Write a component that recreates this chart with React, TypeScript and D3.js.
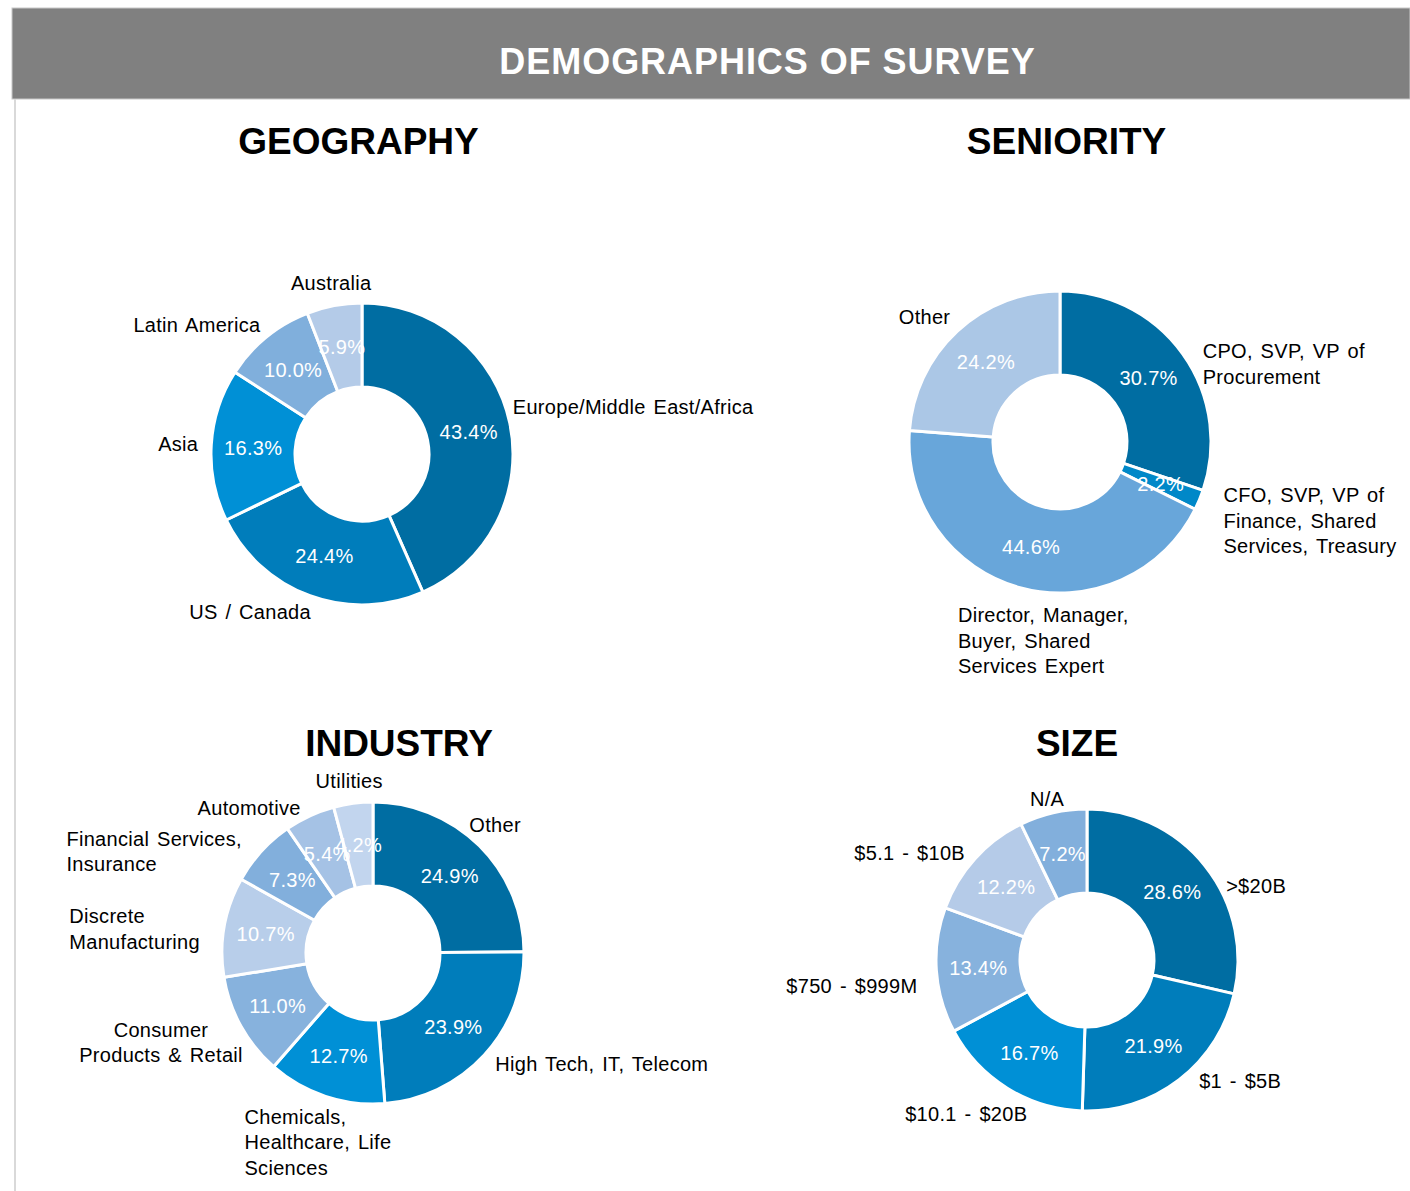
import React, { useEffect, useRef } from "react";
import * as d3 from "d3";

// ---- data ----
const geoCategories = ["Europe/Middle East/Africa", "US / Canada", "Asia", "Latin America", "Australia"];
const geoValues = [43.4, 24.4, 16.3, 10.0, 5.9];

const seniorityCategories = [
  "CPO, SVP, VP of\nProcurement",
  "CFO, SVP, VP of\nFinance, Shared\nServices, Treasury",
  "Director, Manager,\nBuyer, Shared\nServices Expert",
  "Other",
];
const seniorityValues = [30.7, 2.2, 44.6, 24.2];

const industryCategories = [
  "Other",
  "High Tech, IT, Telecom",
  "Chemicals,\nHealthcare, Life\nSciences",
  "Consumer\nProducts & Retail",
  "Discrete\nManufacturing",
  "Financial Services,\nInsurance",
  "Automotive",
  "Utilities",
];
const industryValues = [24.9, 23.9, 12.7, 11.0, 10.7, 7.3, 5.4, 4.2];

const sizeCategories = [">$20B", "$1 - $5B", "$10.1 - $20B", "$750 - $999M", "$5.1 - $10B", "N/A"];
const sizeValues = [28.6, 21.9, 16.7, 13.4, 12.2, 7.2];

// ---- styles ----
const geoColors = ["#006DA2", "#007DBB", "#0090D6", "#80AFDC", "#B4CBE8"];
const seniorityColors = ["#006DA2", "#0088C8", "#68A6DA", "#ABC7E6"];
const industryColors = ["#006DA2", "#007DBB", "#0090D6", "#87B2DD", "#B8CEEA", "#82AFDC", "#A5C2E5", "#C2D5EE"];
const sizeColors = ["#006DA2", "#007DBB", "#0090D6", "#87B2DD", "#B5CBE8", "#82AFDC"];

// label placement: [text-anchor, dx, dy] relative to the outer edge at the slice middle
type LabelPos = [string, number, number];

const charts = [
  {
    title: "GEOGRAPHY", tx: 358.5, ty: 154, cx: 362, cy: 454,
    cats: geoCategories, vals: geoValues, colors: geoColors,
    labels: [["start", 3, -16], ["end", 1, 16], ["end", -13, -1], ["end", -6, -12], ["middle", -3, -23]] as LabelPos[],
  },
  {
    title: "SENIORITY", tx: 1066.5, ty: 154, cx: 1060, cy: 442,
    cats: seniorityCategories, vals: seniorityValues, colors: seniorityColors,
    labels: [["start", 20, 10], ["start", 24, 21], ["start", -62, 53], ["end", -7, -14]] as LabelPos[],
  },
  {
    title: "INDUSTRY", tx: 399, ty: 756, cx: 373, cy: 953,
    cats: industryCategories, vals: industryValues, colors: industryColors,
    labels: [
      ["start", -10, -21], ["start", 11, 9], ["start", -81, 46], ["middle", -80, 16],
      ["start", -155, 2], ["start", -195, 0], ["end", -9, -8], ["middle", -4, -22],
    ] as LabelPos[],
  },
  {
    title: "SIZE", tx: 1077, ty: 756, cx: 1087, cy: 960,
    cats: sizeCategories, vals: sizeValues, colors: sizeColors,
    labels: [["start", 21, 20], ["start", 20, 1], ["end", 20, 26], ["end", -19, 16], ["end", -10, -6], ["middle", -6, -14]] as LabelPos[],
  },
];

const W = 1410;
const H = 1191;
const outerR = 151;
const innerR = 67;
const lineH = 25.5;
const font = "'Liberation Sans', Arial, sans-serif";

export default function App() {
  const ref = useRef<SVGSVGElement>(null);

  useEffect(() => {
    document.body.style.margin = "0";
    const svg = d3.select(ref.current);
    svg.selectAll("*").remove();

    svg.append("rect").attr("width", W).attr("height", H).attr("fill", "#fff");

    // header band
    svg.append("rect").attr("x", 12).attr("y", 8).attr("width", W - 12).attr("height", 91)
      .attr("fill", "#808080").attr("stroke", "#c8c8c8").attr("stroke-width", 1);
    svg.append("line").attr("x1", 15).attr("x2", 15).attr("y1", 99).attr("y2", H)
      .attr("stroke", "#d9d9d9").attr("stroke-width", 2);
    svg.append("text").attr("x", 767.5).attr("y", 74).attr("text-anchor", "middle")
      .attr("font-family", font).attr("font-weight", "bold").attr("font-size", 36)
      .attr("letter-spacing", 0.95).attr("fill", "#fff").text("DEMOGRAPHICS OF SURVEY");

    const pie = d3.pie<number>().sort(null).value((d) => d);
    const arc = d3.arc<d3.PieArcDatum<number>>().innerRadius(innerR).outerRadius(outerR);
    const fmt = d3.format(".1f");

    charts.forEach((c) => {
      svg.append("text").attr("x", c.tx).attr("y", c.ty).attr("text-anchor", "middle")
        .attr("font-family", font).attr("font-weight", "bold").attr("font-size", 37)
        .attr("fill", "#000").text(c.title);

      const g = svg.append("g").attr("transform", `translate(${c.cx},${c.cy})`);
      const arcs = pie(c.vals);

      g.selectAll("path.slice").data(arcs).enter().append("path")
        .attr("class", "slice")
        .attr("d", arc)
        .attr("fill", (_, i) => c.colors[i])
        .attr("stroke", "#fff").attr("stroke-width", 3).attr("stroke-linejoin", "round");

      g.selectAll("text.pct").data(arcs).enter().append("text")
        .attr("class", "pct")
        .attr("x", (d) => arc.centroid(d)[0])
        .attr("y", (d) => arc.centroid(d)[1] + 7)
        .attr("text-anchor", "middle")
        .attr("font-family", font).attr("font-size", 20).attr("letter-spacing", 0.3)
        .attr("fill", "#fff")
        .text((d) => fmt(d.data) + "%");

      arcs.forEach((d, i) => {
        const mid = (d.startAngle + d.endAngle) / 2;
        const px = outerR * Math.sin(mid);
        const py = -outerR * Math.cos(mid);
        const [anchor, dx, dy] = c.labels[i];
        const lines = c.cats[i].split("\n");
        const x = px + dx;
        const y0 = py + dy - ((lines.length - 1) * lineH) / 2 + 7;
        const t = g.append("text").attr("text-anchor", anchor)
          .attr("font-family", font).attr("font-size", 20)
          .attr("letter-spacing", 0.3).attr("word-spacing", 2)
          .attr("fill", "#000");
        lines.forEach((ln, k) => {
          t.append("tspan").attr("x", x).attr("y", y0 + k * lineH).text(ln);
        });
      });
    });
  }, []);

  return <svg ref={ref} width={W} height={H} style={{ display: "block" }} />;
}
